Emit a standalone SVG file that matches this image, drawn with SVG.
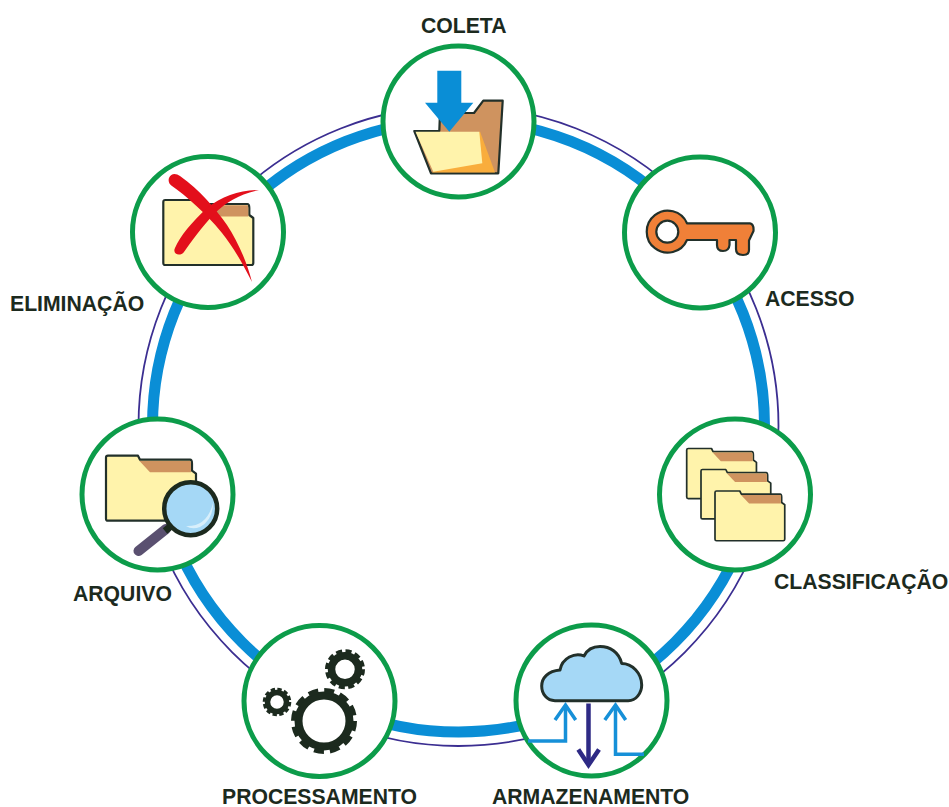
<svg xmlns="http://www.w3.org/2000/svg" xmlns:xlink="http://www.w3.org/1999/xlink" width="949" height="807" viewBox="0 0 949 807">
<style>
.ring{fill:#fff;stroke:#0c9c4a;stroke-width:5}
.lbl{font-family:"Liberation Sans",Arial,sans-serif;font-weight:700;font-size:21.2px;fill:#1c2a1e}
.ink{stroke:#22302a;stroke-width:2.2;stroke-linejoin:round}
.gear{fill:none;stroke:#1c2a1e}
</style>
<defs>
<g id="folder">
<path class="ink" fill="#fff3ab" d="M2,0H32L34,4H84Q86,4 86,8V15L90,18V63Q90,65 88,65H2Q0,65 0,63V2Q0,0 2,0Z"/>
<path fill="#cf935f" d="M33.5,5.2H84Q85,5.2 85,8V16.5H44Z"/>
</g>
</defs>
<rect width="949" height="807" fill="#fff"/>
<g id="connectors" fill="none">
<circle cx="458.5" cy="426" r="320" stroke="#3b2e91" stroke-width="1.8"/>
<circle cx="458.5" cy="426" r="306" stroke="#0a8ed6" stroke-width="11"/>
</g>
<g id="coleta">
<circle class="ring" cx="458.5" cy="121.5" r="75.5"/>
<path class="ink" fill="#cf935f" d="M439.3,131L440,113H474L483.3,100.7H502.7L498.3,173.3H431L414.3,131Z"/>
<path fill="#f9ad3c" d="M480,131.5L495,172.5H432Z"/>
<path fill="#fff3ab" d="M415.5,131.8H479.3L482.3,163.3L433.3,171.7Z"/>
<path fill="#0a8ed6" d="M437.3,70.7H461.3V102.7H473.3L449.3,131.7L425,102.7H437.3Z"/>
<text class="lbl" x="421" y="33">COLETA</text>
</g>
<g id="acesso">
<circle class="ring" cx="700" cy="232.5" r="75.5"/>
<path class="ink" fill="#f08038" fill-rule="evenodd" d="M687,223.3H750Q754,224 753.5,231L749,240.5V250Q749,255 743,255Q736,255 736,249V240H729.5V245Q729,251 723,251Q717,251 717,245V240H687A21,21 0 1 1 687,223.3ZM678.3,231.7A11,11 0 1 0 656.3,231.7A11,11 0 1 0 678.3,231.7Z"/>
<text class="lbl" x="765" y="306">ACESSO</text>
</g>
<g id="classificacao">
<circle class="ring" cx="735" cy="494.5" r="75.5"/>
<use xlink:href="#folder" href="#folder" transform="translate(686.7,448.5) scale(.775,.77)"/>
<use xlink:href="#folder" href="#folder" transform="translate(701,469.5) scale(.775,.76)"/>
<use xlink:href="#folder" href="#folder" transform="translate(715,491) scale(.775,.765)"/>
<text class="lbl" x="774" y="589">CLASSIFICAÇÃO</text>
</g>
<g id="armazenamento">
<circle class="ring" cx="591.5" cy="700.5" r="75.5"/>
<path class="ink" style="stroke-width:3" fill="#a5d8f6" d="M555,700.7H628.3C636,700.7 641.7,693 641.7,685C641.7,673 632,663.5 621.7,663.5C619,652 610,646.5 600,646.5C593,646.5 587,650 584,656C575,652 562,658 560,670C548,671 541.7,678 541.7,686C541.7,694 547,700.7 555,700.7Z"/>
<g fill="none" stroke="#1690d8" stroke-width="3.5">
<path d="M528,741H565.5V706"/><path d="M555,720L565.5,705L575.7,720"/>
<path d="M644,754.3H615.5V706"/><path d="M604.8,720L615.5,705L625.7,720"/>
</g>
<g fill="none" stroke="#2e2a85" stroke-width="4.5">
<path d="M588.5,703.5V764"/><path d="M578.3,749.5L588.5,765L599,749.5"/>
</g>
<text class="lbl" x="492" y="804">ARMAZENAMENTO</text>
</g>
<g id="processamento">
<circle class="ring" cx="319.5" cy="701" r="75.5"/>
<circle class="gear" cx="324" cy="721" r="25.5" stroke-width="8"/>
<circle class="gear" cx="324" cy="721" r="30.5" stroke-width="5" stroke-dasharray="10 5.97"/>
<circle class="gear" cx="345" cy="669.3" r="13.5" stroke-width="7.5"/>
<circle class="gear" cx="345" cy="669.3" r="18" stroke-width="4" stroke-dasharray="6 3.42"/>
<circle class="gear" cx="277" cy="702" r="9.5" stroke-width="5.5"/>
<circle class="gear" cx="277" cy="702" r="12.8" stroke-width="3" stroke-dasharray="4.3 2.4"/>
<text class="lbl" x="222" y="804">PROCESSAMENTO</text>
</g>
<g id="arquivo">
<circle class="ring" cx="157.5" cy="494.5" r="75.5"/>
<use xlink:href="#folder" href="#folder" transform="translate(106,455.7)"/>
<path d="M138.5,551L166,529" stroke="#5a5070" stroke-width="10" stroke-linecap="round" fill="none"/>
<path d="M165,531L171,526" stroke="#1c2a1e" stroke-width="7" fill="none"/>
<circle cx="190.7" cy="508.7" r="26.5" fill="#a5d8f6" stroke="#1c2a1e" stroke-width="4.5"/>
<path d="M186,526Q207,527 213,503Q213,520 200,527Q192,530 186,526Z" fill="#d8effb"/>
<text class="lbl" x="73" y="601">ARQUIVO</text>
</g>
<g id="eliminacao">
<circle class="ring" cx="208" cy="232" r="75.5"/>
<use xlink:href="#folder" href="#folder" transform="translate(163.3,200)"/>
<path fill="#e30f1b" d="M169,178C171,173 176,173 180,176C200,190 215,208 227,225C238,242 247,262 252,282C244,266 234,248 222,233C205,212 186,196 172,186C169,184 168,181 169,178Z"/>
<path fill="#e30f1b" d="M175,248C180,236 192,222 207,208C222,196 240,190 259,190C240,194 226,202 214,214C201,228 191,242 184,252C180,257 172,254 175,248Z"/>
<text class="lbl" x="10" y="311">ELIMINAÇÃO</text>
</g>
</svg>
